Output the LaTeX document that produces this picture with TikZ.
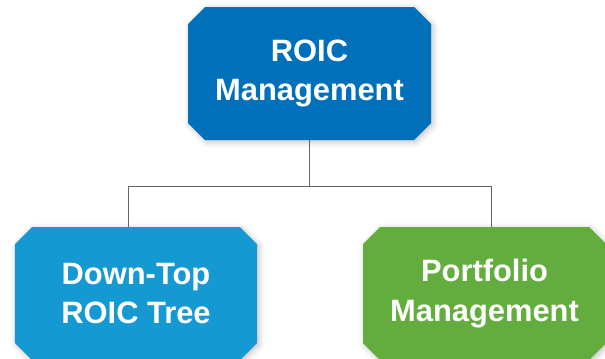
\documentclass[tikz,border=0pt]{standalone}
\usepackage{fontspec}
\setmainfont{Liberation Sans}
\usetikzlibrary{shapes.misc,shadows.blur}
\definecolor{topblue}{RGB}{0,112,186}
\definecolor{lightblue}{RGB}{20,153,211}
\definecolor{leafgreen}{RGB}{99,173,62}
\definecolor{linegray}{RGB}{100,100,100}
\tikzset{
  box/.style={chamfered rectangle, chamfered rectangle xsep=8.5bp, chamfered rectangle ysep=8.5bp,
    minimum width=#1, minimum height=133bp, inner sep=0pt, text=white,
    font=\bfseries\fontsize{31}{40}\selectfont, align=center,
    blur shadow={shadow xshift=2bp, shadow yshift=-2bp, shadow blur radius=6bp, shadow opacity=25}},
  conn/.style={draw=linegray, line width=1bp}
}
\begin{document}
\begin{tikzpicture}[x=1bp,y=-1bp]
\useasboundingbox (0,0) rectangle (605,358);
\node[box=243bp, fill=topblue] (top) at (309.5,73.5) {ROIC\\Management};
\node[box=242bp, fill=lightblue] (left) at (136,293.5) {Down-Top\\ROIC Tree};
\node[box=243bp, fill=leafgreen] (right) at (484.5,293.5) {Portfolio\\Management};
\coordinate (hl) at (128,186);
\coordinate (hr) at (491,186);
\draw[conn] (top.south) -- (top.south |- hl);
\draw[conn] (hl) -- (hr);
\draw[conn] (hl) -- (hl |- left.north);
\draw[conn] (hr) -- (hr |- right.north);
\end{tikzpicture}
\end{document}
